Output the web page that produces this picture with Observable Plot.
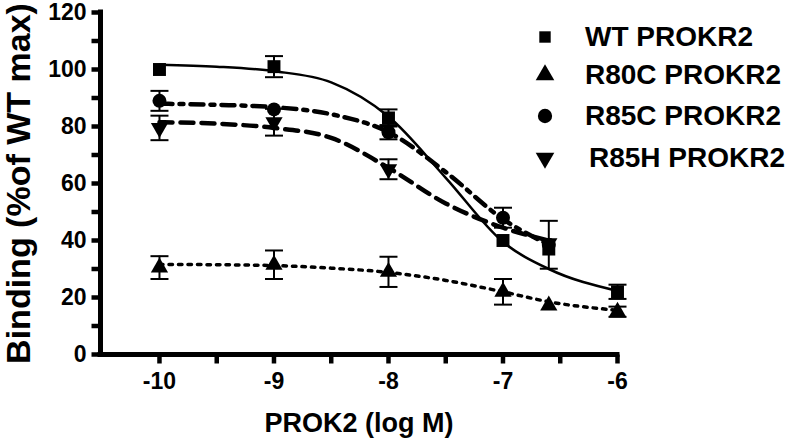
<!DOCTYPE html>
<html>
<head>
<meta charset="utf-8">
<script src="https://cdn.jsdelivr.net/npm/d3@7"></script>
<script src="https://cdn.jsdelivr.net/npm/@observablehq/plot@0.6"></script>
<style>
  html, body { margin: 0; padding: 0; background: #fff; }
  #wrap { position: relative; width: 788px; height: 444px; font-family: "Liberation Sans", Arial, sans-serif; font-weight: bold; }
  #legend { position: absolute; left: 530px; top: 0px; }
  .item { position: absolute; left: 0; height: 30px; display: flex; align-items: center; white-space: nowrap; font-size: 28px; color: #000; }
  .item svg { width: 30px; height: 30px; margin-right: 25px; }
</style>
</head>
<body>
<div id="wrap"><div id="legend"></div></div>
<script>
// Concentrations (log M)
const conc = [-10, -9, -8, -7, -6.6, -6];
// Measured points (mean, SEM) per receptor
const wtMean   = [100, 101, 83, 40, 37, 22];
const wtErr    = [0, 3.7, 3, 0, 0, 2.5];
const r80cMean = [30.5, 31.5, 29, 22, 17.2, 15];
const r80cErr  = [4, 5, 5.3, 4.5, 0, 1.8];
const r85cMean = [89, 86, 78, 48, 38.5, null];
const r85cErr  = [3.5, 0, 2.5, 3.5, 8.4, null];
const r85hMean = [79.5, 81.5, 65, null, 39, null];
const r85hErr  = [4.3, 4.7, 3.5, null, 0, null];

// Fitted curves
const fitX    = [-10, -9.5, -9, -8.5, -8, -7.5, -7, -6.6, -6];
const wtFit   = [101.7, 101, 99.4, 95.5, 83.5, 62, 39.5, 30, 22.3];
const r80cFit = [31.6, 31.5, 31.2, 30.3, 28.8, 26, 22, 18.5, 15.5];
const r85cFit = [88, 87.6, 86.8, 84.3, 78, 64, 47.5, 38.5, null];
const r85hFit = [81.5, 81, 79.5, 76, 65.5, 53, 44.5, 40, null];

// Axis ticks
const xTicks = [-10, -9, -8, -7, -6];
const xMinor = [-9.5, -8.5, -7.5, -6.5];
const yTicks = [0, 20, 40, 60, 80, 100, 120];
const yMinor = [10, 30, 50, 70, 90, 110];
const xMin = -10.515, xMax = -6;

const seriesNames = ["WT PROKR2", "R80C PROKR2", "R85C PROKR2", "R85H PROKR2"];

function pts(means, errs) {
  return conc.map((x, i) => ({x, y: means[i], e: errs[i]})).filter(d => d.y != null);
}
function fit(vals) {
  return fitX.map((x, i) => ({x, y: vals[i]})).filter(d => d.y != null);
}
const wtP = pts(wtMean, wtErr), r80P = pts(r80cMean, r80cErr), r85cP = pts(r85cMean, r85cErr), r85hP = pts(r85hMean, r85hErr);
const allP = [...wtP, ...r80P, ...r85cP, ...r85hP].filter(d => d.e > 0);

const cap = { draw(ctx) { ctx.moveTo(-9, 0); ctx.lineTo(9, 0); } };
const xTickSym = { draw(ctx) { ctx.moveTo(0, 0); ctx.lineTo(0, 9); } };
const yTickSym = { draw(ctx) { ctx.moveTo(0, 0); ctx.lineTo(-9, 0); } };
const fmt = d => String(d);

const chart = Plot.plot({
  width: 788, height: 444,
  marginLeft: 100, marginRight: 171, marginTop: 12, marginBottom: 90,
  x: {domain: [xMin, xMax]},
  y: {domain: [0, 120]},
  style: {fontFamily: "'Liberation Sans', Arial, sans-serif", fontWeight: "bold", color: "#000", background: "#fff", overflow: "visible"},
  marks: [
    Plot.axisY({ticks: yTicks, tickSize: 0, tickPadding: 14, fontSize: 23, tickFormat: fmt, label: null}),
    Plot.axisX({ticks: xTicks, tickSize: 0, tickPadding: 18, fontSize: 23, tickFormat: fmt, label: null}),
    Plot.dot([...yTicks, ...yMinor], {x: () => xMin, y: d => d, symbol: yTickSym, stroke: "#000", strokeWidth: 4.5, fill: "none"}),
    Plot.dot([...xTicks, ...xMinor], {x: d => d, y: () => 0, symbol: xTickSym, stroke: "#000", strokeWidth: 4.5, fill: "none"}),
    Plot.ruleX([xMin], {stroke: "#000", strokeWidth: 5, strokeLinecap: "square"}),
    Plot.ruleY([0], {stroke: "#000", strokeWidth: 5, strokeLinecap: "square"}),
    Plot.text(["Binding (%of WT max)"], {frameAnchor: "left", rotate: -90, dx: -81, textAnchor: "middle", lineAnchor: "middle", fontSize: 34, fontWeight: "bold", fill: "#000"}),
    Plot.text(["PROK2 (log M)"], {frameAnchor: "bottom", dy: 69, textAnchor: "middle", lineAnchor: "middle", fontSize: 27, fontWeight: "bold", fill: "#000"}),
    // fitted curves
    Plot.line(fit(wtFit), {x: "x", y: "y", curve: "monotone-x", stroke: "#000", strokeWidth: 2.5}),
    Plot.line(fit(r80cFit), {x: "x", y: "y", curve: "monotone-x", stroke: "#000", strokeWidth: 3.5, strokeDasharray: "3.5,6"}),
    Plot.line(fit(r85cFit), {x: "x", y: "y", curve: "monotone-x", stroke: "#000", strokeWidth: 4.5, strokeDasharray: "13,7,4,7"}),
    Plot.line(fit(r85hFit), {x: "x", y: "y", curve: "monotone-x", stroke: "#000", strokeWidth: 4.5, strokeDasharray: "13,8"}),
    // error bars
    Plot.ruleX(allP, {x: "x", y1: d => d.y - d.e, y2: d => d.y + d.e, stroke: "#000", strokeWidth: 2}),
    Plot.dot(allP, {x: "x", y: d => d.y + d.e, symbol: cap, stroke: "#000", strokeWidth: 2, fill: "none"}),
    Plot.dot(allP, {x: "x", y: d => d.y - d.e, symbol: cap, stroke: "#000", strokeWidth: 2, fill: "none"}),
    // markers
    Plot.dot(wtP, {x: "x", y: "y", symbol: "square", r: 7.3, fill: "#000"}),
    Plot.dot(r80P, {x: "x", y: "y", symbol: "triangle", r: 6.4, fill: "#000"}),
    Plot.dot(r85cP, {x: "x", y: "y", symbol: "circle", r: 7, fill: "#000"}),
    Plot.dot(r85hP, {x: "x", y: "y", symbol: "triangle", r: 6.4, rotate: 180, fill: "#000"})
  ]
});
document.getElementById("wrap").prepend(chart);

// legend
const legendSymbols = [d3.symbolSquare, d3.symbolTriangle, d3.symbolCircle, d3.symbolTriangle];
const legendRot = [0, 0, 0, 180];
const legendSize = [130, 150, 160, 150];
const legendTop = [22, 60, 101, 143];
const legendPad = [0, 0, 0, 4];
const lg = d3.select("#legend");
seriesNames.forEach((name, i) => {
  const it = lg.append("div").attr("class", "item").style("top", legendTop[i] + "px");
  const s = it.append("svg").attr("viewBox", "-15 -15 30 30");
  s.append("path").attr("d", d3.symbol(legendSymbols[i], legendSize[i])()).attr("transform", `rotate(${legendRot[i]})`).attr("fill", "#000");
  it.append("span").style("padding-left", legendPad[i] + "px").text(name);
});
</script>
</body>
</html>
